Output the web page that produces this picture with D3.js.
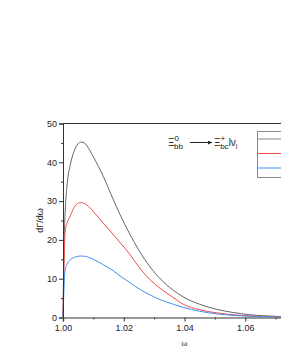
<!DOCTYPE html>
<html>
<head>
<meta charset="utf-8">
<script src="https://cdn.jsdelivr.net/npm/d3@7"></script>
<style>
  body { margin: 0; background: #fff; }
  svg { display: block; overflow: hidden; }
  text { font-family: "Liberation Sans", Arial, sans-serif; fill: #222; }
</style>
</head>
<body>
<div id="chart"></div>
<script>
// omega grid and the three curves
var omega = [1.0, 1.0003, 1.0007, 1.0014, 1.0023, 1.0034, 1.0045, 1.0058, 1.007, 1.0085, 1.010, 1.0133,
             1.0166, 1.0188, 1.022, 1.025, 1.0287, 1.032, 1.036, 1.0396, 1.045, 1.0506, 1.056, 1.0616,
             1.066, 1.07, 1.075, 1.08];
var grayVals = [0, 18, 27, 34.6, 39, 42.3, 44.3, 45.2, 45, 43.5, 41.4, 36.3,
                30.3, 26.5, 21.5, 17.3, 13, 10, 7.2, 5.3, 3.4, 2.1, 1.3, 0.7,
                0.45, 0.3, 0.15, 0.05];
var redVals = [0, 12, 22, 24.5, 26, 28, 29.2, 29.6, 29.4, 28.6, 27.3, 24.3,
               21.3, 19.3, 16.3, 13, 9.7, 7.5, 5.3, 3.4, 2.0, 1.2, 0.7, 0.4,
               0.28, 0.18, 0.1, 0.03];
var blueVals = [0, 7, 12.2, 13.8, 14.8, 15.4, 15.7, 15.85, 15.8, 15.5, 15.0, 13.6,
                12, 10.7, 9.0, 7.4, 5.8, 4.6, 3.5, 2.6, 1.6, 0.95, 0.55, 0.3,
                0.2, 0.12, 0.06, 0.02];
var seriesColors = ["#666666", "#f04a4a", "#3f8ef2"];
var xTicks = [1.00, 1.02, 1.04, 1.06];
var yTicks = [0, 10, 20, 30, 40, 50];

var width = 281, height = 363;
var margin = {top: 123.5, left: 63, bottom: 45.5};
var plotW = 243, plotH = height - margin.top - margin.bottom;

var svg = d3.select("#chart").append("svg")
    .attr("width", width)
    .attr("height", height);

var x = d3.scaleLinear().domain([1.0, 1.08]).range([margin.left, margin.left + plotW]);
var y = d3.scaleLinear().domain([0, 50]).range([margin.top + plotH, margin.top]);

// curves
var line = d3.line()
    .x(function(d) { return x(d[0]); })
    .y(function(d) { return y(d[1]); })
    .curve(d3.curveMonotoneX);

[grayVals, redVals, blueVals].forEach(function(vals, i) {
    svg.append("path")
        .datum(omega.map(function(w, j) { return [w, vals[j]]; }))
        .attr("fill", "none")
        .attr("stroke", seriesColors[i])
        .attr("stroke-width", 1)
        .attr("d", line);
});

// axes
var yAxis = svg.append("g")
    .attr("transform", "translate(" + margin.left + ",0)")
    .call(d3.axisLeft(y).tickValues(yTicks).tickSize(4).tickPadding(2).tickFormat(d3.format("d")));
svg.append("g")
    .attr("transform", "translate(" + margin.left + ",0)")
    .call(d3.axisLeft(y).tickValues(d3.range(5, 50, 10)).tickSize(2).tickFormat(""))
    .select(".domain").remove();

var xAxis = svg.append("g")
    .attr("transform", "translate(0," + (margin.top + plotH) + ")")
    .call(d3.axisBottom(x).tickValues(xTicks).tickSize(4).tickPadding(3).tickFormat(d3.format(".2f")));
svg.append("g")
    .attr("transform", "translate(0," + (margin.top + plotH) + ")")
    .call(d3.axisBottom(x).tickValues([1.01, 1.03, 1.05, 1.07]).tickSize(2).tickFormat(""))
    .select(".domain").remove();

svg.selectAll(".tick text").style("font-size", "9px").style("font-family", "Liberation Sans, Arial, sans-serif").attr("fill", "#222");
svg.selectAll(".domain, .tick line").attr("stroke", "#333");
xAxis.select(".domain").attr("stroke", "#777").attr("stroke-width", 1.6);

// top frame
svg.append("line")
    .attr("x1", margin.left).attr("x2", margin.left + plotW)
    .attr("y1", margin.top).attr("y2", margin.top)
    .attr("stroke", "#333");

// axis titles
svg.append("text")
    .attr("transform", "translate(43," + (margin.top + plotH / 2) + ") rotate(-90)")
    .attr("text-anchor", "middle")
    .style("font-size", "9px")
    .text("dΓ/dω");
svg.append("text")
    .attr("x", margin.left + plotW / 2)
    .attr("y", 346)
    .attr("text-anchor", "middle")
    .style("font-size", "9px")
    .style("font-family", "Liberation Serif, serif")
    .text("ω");

// process label
var ann = svg.append("text").attr("x", 168).attr("y", 146).style("font-size", "10px");
ann.append("tspan").text("Ξ");
ann.append("tspan").attr("dy", -5).style("font-size", "8px").text("0");
ann.append("tspan").attr("dx", -5).attr("dy", 8).style("font-size", "8px").text("bb");
svg.append("defs").append("marker")
    .attr("id", "arr").attr("viewBox", "0 0 10 10").attr("refX", 10).attr("refY", 5)
    .attr("markerWidth", 5).attr("markerHeight", 4).attr("orient", "auto")
    .append("path").attr("d", "M0,0L10,5L0,10z").attr("fill", "#222");
svg.append("line")
    .attr("x1", 190).attr("x2", 212).attr("y1", 142.5).attr("y2", 142.5)
    .attr("stroke", "#222").attr("stroke-width", 1)
    .attr("marker-end", "url(#arr)");
var ann2 = svg.append("text").attr("x", 214).attr("y", 146).style("font-size", "10px");
ann2.append("tspan").text("Ξ");
ann2.append("tspan").attr("dy", -5).style("font-size", "8px").text("+");
ann2.append("tspan").attr("dx", -5).attr("dy", 8).style("font-size", "8px").text("bc");
ann2.append("tspan").attr("dy", -3).text("lν");
ann2.append("tspan").attr("dy", 3).style("font-size", "7px").text("l");

// legend box (labels fall outside the visible window)
var legend = svg.append("g");
legend.append("rect")
    .attr("x", 257.5).attr("y", 131.5).attr("width", 60).attr("height", 46)
    .attr("fill", "#fff").attr("stroke", "#888");
seriesColors.forEach(function(c, i) {
    legend.append("line")
        .attr("x1", 258).attr("x2", 300)
        .attr("y1", 139 + i * 14.5).attr("y2", 139 + i * 14.5)
        .attr("stroke", i === 0 ? "#888" : c);
});
</script>
</body>
</html>
